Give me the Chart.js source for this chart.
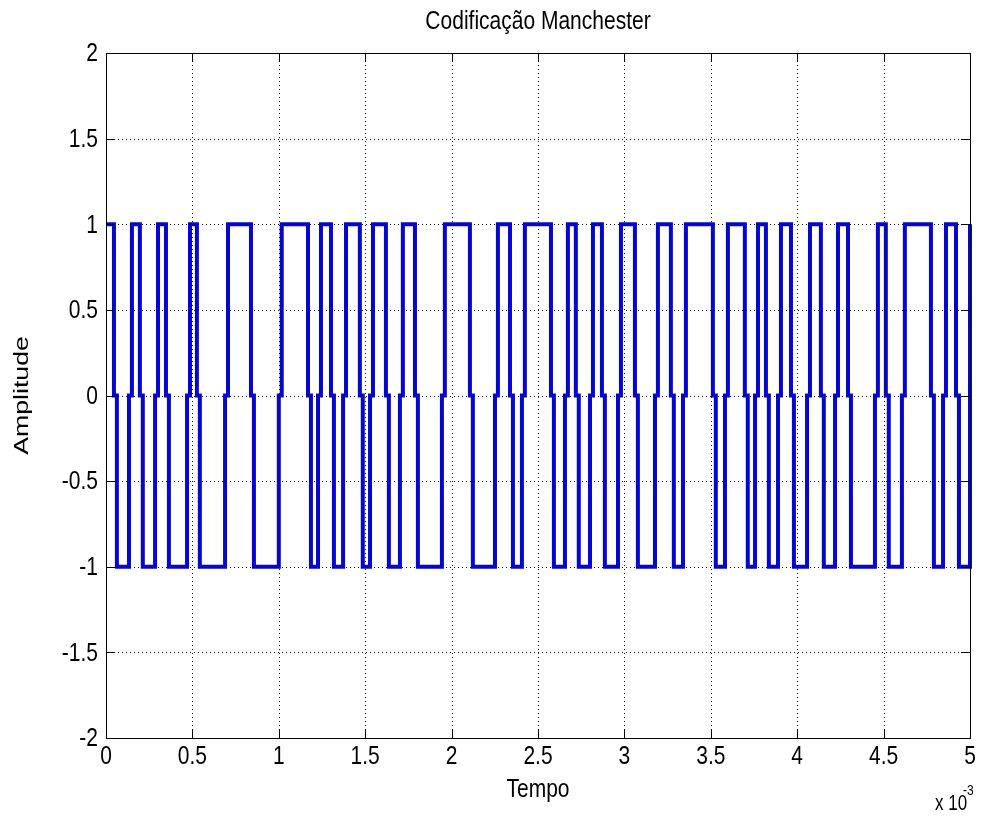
<!DOCTYPE html>
<html>
<head>
<meta charset="utf-8">
<script src="https://cdn.jsdelivr.net/npm/chart.js@4.4.1/dist/chart.umd.min.js"></script>
<style>
  html, body { margin:0; padding:0; background:#fff; }
  #wrap { width:984px; height:823px; }
</style>
</head>
<body>
<div id="wrap"><canvas id="chart" width="984" height="823"></canvas></div>
<script>
/* ── data: edge times (x 10^-3 s) and the level reached at each edge ── */
const EDGE_TIMES  = [0.046, 0.133, 0.196, 0.284, 0.347, 0.469, 0.526, 0.689, 0.839,
                     1.0, 1.169, 1.227, 1.302, 1.372, 1.469, 1.528, 1.620, 1.701, 1.788,
                     1.944, 2.106, 2.251, 2.338, 2.407, 2.575, 2.656, 2.719, 2.801, 2.870,
                     2.963, 3.061, 3.177, 3.269, 3.339, 3.512, 3.582, 3.697, 3.756, 3.819,
                     3.889, 3.964, 4.057, 4.137, 4.219, 4.294, 4.450, 4.513, 4.606, 4.774,
                     4.844, 4.919];
const EDGE_LEVELS = [-1, 1, -1, 1, -1, 1, -1, 1, -1,
                     1, -1, 1, -1, 1, -1, 1, -1, 1, -1,
                     1, -1, 1, -1, 1, -1, 1, -1, 1, -1,
                     1, -1, 1, -1, 1, -1, 1, -1, 1, -1,
                     1, -1, 1, -1, 1, -1, 1, -1, 1, -1,
                     1, -1];
const START = { t:0, level:1 };
const END   = { t:5, level:1 };
const ZERO_HOLD = 0.017;          // the sampled 0 that sits in every edge
const X_TICKS = [0, 0.5, 1, 1.5, 2, 2.5, 3, 3.5, 4, 4.5, 5];
const Y_TICKS = [-2, -1.5, -1, -0.5, 0, 0.5, 1, 1.5, 2];

const FONT = "'Liberation Sans',Arial,sans-serif";
const STRETCH = 1.27;             // reference text is drawn tall

function buildPoints() {
  const pts = [{ x:START.t, y:START.level }];
  EDGE_TIMES.forEach((t,i) => {
    pts.push({ x:t, y:0 });
    pts.push({ x:t + ZERO_HOLD, y:EDGE_LEVELS[i] });
  });
  pts.push({ x:END.t, y:0 }, { x:END.t, y:END.level });
  return pts;
}

function tallText(ctx, txt, x, y, size, align, rotate) {
  ctx.save();
  ctx.translate(x, y);
  if (rotate) { ctx.rotate(-Math.PI/2); ctx.scale(STRETCH, 1); }
  else ctx.scale(1, STRETCH);
  ctx.font = `${size}px ${FONT}`;
  ctx.textAlign = align;
  ctx.textBaseline = 'middle';
  ctx.fillText(txt, 0, 0);
  ctx.restore();
}

/* ── matlab-ish frame: dotted grid, inward ticks, box, labels ── */
const framePlugin = {
  id:'frame',
  afterDatasetsDraw(chart) {
    const { ctx, chartArea:a, scales:{x, y} } = chart;
    ctx.save();
    ctx.strokeStyle = '#111';
    ctx.lineWidth = 1;
    ctx.setLineDash([1,3]);
    x.ticks.forEach(t => {
      const px = Math.round(x.getPixelForValue(t.value)) + .5;
      ctx.beginPath(); ctx.moveTo(px, a.top); ctx.lineTo(px, a.bottom); ctx.stroke();
    });
    y.ticks.forEach(t => {
      const py = Math.round(y.getPixelForValue(t.value)) + .5;
      ctx.beginPath(); ctx.moveTo(a.left, py); ctx.lineTo(a.right, py); ctx.stroke();
    });
    ctx.setLineDash([]);
    ctx.strokeStyle = '#000';
    const tl = 9;
    ctx.beginPath();
    x.ticks.forEach(t => {
      const px = Math.round(x.getPixelForValue(t.value)) + .5;
      ctx.moveTo(px, a.bottom); ctx.lineTo(px, a.bottom - tl);
      ctx.moveTo(px, a.top);    ctx.lineTo(px, a.top + tl);
    });
    y.ticks.forEach(t => {
      const py = Math.round(y.getPixelForValue(t.value)) + .5;
      ctx.moveTo(a.left, py);  ctx.lineTo(a.left + tl, py);
      ctx.moveTo(a.right, py); ctx.lineTo(a.right - tl, py);
    });
    ctx.stroke();
    ctx.strokeRect(Math.round(a.left)+.5, Math.round(a.top)+.5, Math.round(a.right-a.left), Math.round(a.bottom-a.top));
    ctx.restore();
  },
  afterDraw(chart) {
    const { ctx, chartArea:a, scales:{x, y} } = chart;
    const cx = (a.left + a.right) / 2;
    ctx.save();
    ctx.fillStyle = '#000';
    x.ticks.forEach(t => tallText(ctx, t.label, x.getPixelForValue(t.value), a.bottom + 19, 21, 'center'));
    y.ticks.forEach(t => tallText(ctx, t.label, a.left - 8, y.getPixelForValue(t.value) + 1, 21, 'right'));
    tallText(ctx, 'Codificação Manchester', cx, 22, 21, 'center');
    tallText(ctx, 'Tempo', cx, 790, 21, 'center');
    tallText(ctx, 'Amplitude', 22, (a.top + a.bottom) / 2, 21, 'center', true);
    tallText(ctx, 'x 10', 935, 804, 17, 'left');
    tallText(ctx, '-3', 963, 791, 12, 'left');
    ctx.restore();
  }
};

new Chart(document.getElementById('chart').getContext('2d'), {
  type:'line',
  data:{
    datasets:[{
      data: buildPoints(),
      borderColor:'#0606d2',
      borderWidth:4,
      pointRadius:0,
      stepped:'before',
      fill:false,
      clip:4
    }]
  },
  options:{
    responsive:false,
    animation:false,
    devicePixelRatio:1,
    layout:{ padding:{ top:53, right:14, left:0, bottom:0 } },
    plugins:{ legend:{display:false}, tooltip:{enabled:false}, title:{display:false} },
    scales:{
      x:{
        type:'linear', min:0, max:5,
        afterFit(s){ s.height = 85; },
        afterBuildTicks(s){ s.ticks = X_TICKS.map(v => ({value:v})); },
        grid:{ display:false, drawTicks:false },
        border:{ display:false },
        ticks:{ display:false, autoSkip:false, callback:v => String(v) }
      },
      y:{
        type:'linear', min:-2, max:2,
        afterFit(s){ s.width = 106; },
        afterBuildTicks(s){ s.ticks = Y_TICKS.map(v => ({value:v})); },
        grid:{ display:false, drawTicks:false },
        border:{ display:false },
        ticks:{ display:false, autoSkip:false, callback:v => String(v) }
      }
    }
  },
  plugins:[framePlugin]
});
</script>
</body>
</html>
